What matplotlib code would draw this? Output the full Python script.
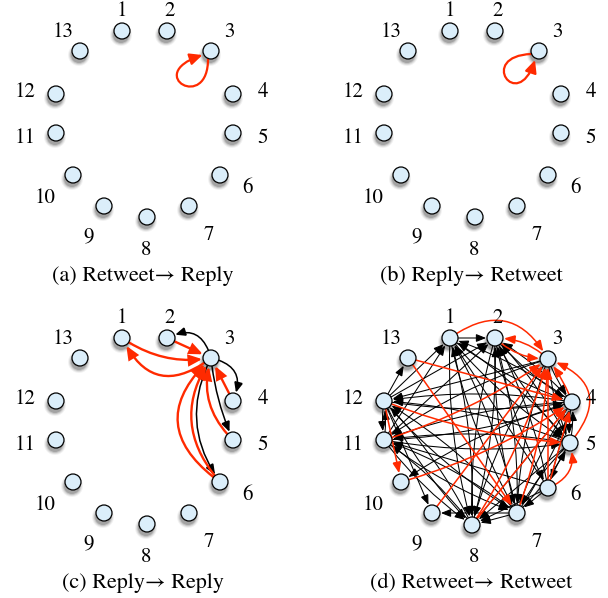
import matplotlib.pyplot as plt
from matplotlib.patches import Circle, FancyArrowPatch
from matplotlib.path import Path

# ---- layout data (pixels, relative to the centre of each panel, y down) ----
node_ids = list(range(1, 14))
node_dx = [-23, 22, 66, 88, 88, 75, 44, 2, -41, -72, -89, -89, -65]
node_dy = [-93, -93, -73, -30, 9, 51, 82, 93, 82, 51, 9, -30, -73]
label_dx = [-23, 25, 84, 118, 118, 102, 64, 1, -56, -100, -120, -120, -82]
label_dy = [-108, -108, -87, -27, 19, 69, 116, 131, 117, 79, 19, -27, -87]

# panel (d) was laid out with a few nodes nudged
d_nudge_x = [0, 0, 9, 11, 9, 0, 0, -3, 0, 0, 0, 0, 0]
d_nudge_y = [0, 0, 1, 1, 3, 6, 0, 1, 0, 0, 0, 0, 0]

panel_centres = {'a': (145, 124), 'b': (473, 124), 'c': (145, 431), 'd': (473, 431)}
captions = {'a': '(a) Retweet\u2192 Reply', 'b': '(b) Reply\u2192 Retweet',
            'c': '(c) Reply\u2192 Reply', 'd': '(d) Retweet\u2192 Retweet'}

# ---- edges (source, target, colour) ----
edges_c = [(1, 3, 'r'), (3, 1, 'r'), (2, 3, 'r'), (3, 2, 'k'), (3, 4, 'k'),
           (4, 3, 'r'), (3, 5, 'k'), (5, 3, 'r'), (3, 6, 'k'), (6, 3, 'r'),
           (6, 3, 'r')]
bend_c = [0.2, -0.6, 0.0, 0.6, -0.6, 0.0, 0.08, -0.3, 0.3, -0.6, -0.38]

black_d = [(1, 2), (1, 4), (1, 5), (1, 7), (1, 8),
           (2, 4), (2, 5), (2, 6), (2, 7), (2, 8),
           (3, 4), (3, 5), (3, 7), (3, 8), (3, 11), (3, 12),
           (4, 1), (4, 2), (4, 5), (4, 7), (4, 10), (4, 11), (4, 12),
           (5, 1), (5, 2), (5, 4), (5, 6), (5, 7), (5, 8), (5, 11), (5, 12),
           (6, 1), (6, 2), (6, 4), (6, 7), (6, 8), (6, 11),
           (7, 1), (7, 2), (7, 4), (7, 5), (7, 8), (7, 9), (7, 11), (7, 12),
           (8, 1), (8, 2), (8, 4), (8, 11), (8, 12),
           (11, 1), (11, 2), (11, 4), (11, 5), (11, 7), (11, 8), (11, 12),
           (12, 1), (12, 2), (12, 4), (12, 7), (12, 8), (12, 9), (12, 11),
           (12, 13)]
red_d = [(1, 3), (2, 3), (3, 2), (4, 3), (5, 3), (6, 3), (6, 4), (6, 5),
         (7, 3), (8, 3), (8, 4), (9, 3), (10, 4), (11, 3), (12, 5), (12, 10),
         (13, 4), (13, 7)]
bend_red_d = {(1, 3): -0.55, (2, 3): 0.2, (3, 2): 0.2, (5, 3): 0.7, (6, 5): 0.45}

RED = '#ff2a00'
NODE_FILL = '#dbeefa'
R = 8.0

fig = plt.figure(figsize=(6.08, 5.98), dpi=100)
ax = fig.add_axes([0, 0, 1, 1])
ax.set_xlim(0, 608)
ax.set_ylim(598, 0)
ax.axis('off')

font = ['STIXGeneral', 'Liberation Serif', 'DejaVu Serif']


def node_pos(panel):
    cx, cy = panel_centres[panel]
    pos = {}
    for i, n in enumerate(node_ids):
        x = cx + node_dx[i]
        y = cy + node_dy[i]
        if panel == 'd':
            x += d_nudge_x[i]
            y += d_nudge_y[i]
        pos[n] = (x, y)
    return pos


def edge(p, q, color, lw, rad, hl, hw):
    a = FancyArrowPatch(p, q, arrowstyle=f'-|>,head_length={hl},head_width={hw}',
                        mutation_scale=10, connectionstyle=f'arc3,rad={rad}',
                        color=color, lw=lw, shrinkA=6.0, shrinkB=6.4,
                        zorder=3, joinstyle='miter')
    ax.add_patch(a)


def self_loop(pts, color):
    path = Path(pts, [Path.MOVETO, Path.CURVE4, Path.CURVE4, Path.CURVE4])
    a = FancyArrowPatch(path=path, arrowstyle='-|>,head_length=0.75,head_width=0.35',
                        mutation_scale=10, color=color, lw=1.6, zorder=3)
    ax.add_patch(a)


for panel in 'abcd':
    pos = node_pos(panel)
    cx, cy = panel_centres[panel]

    # nodes with soft shadow
    for n in node_ids:
        x, y = pos[n]
        for rr, al in [(11, 0.06), (10, 0.1), (9, 0.15), (8, 0.22)]:
            ax.add_patch(Circle((x - 1, y + 4), rr, facecolor='#303030',
                                edgecolor='none', alpha=al, zorder=1))
        ax.add_patch(Circle((x, y), R, facecolor=NODE_FILL, edgecolor='black',
                            lw=0.9, zorder=5))

    for i, n in enumerate(node_ids):
        ax.text(cx + label_dx[i], cy + label_dy[i], str(n), ha='center',
                va='baseline', fontsize=15, family=font, zorder=6)

    ax.text(cx - 2, cy + 157, captions[panel], ha='center', va='baseline',
            fontsize=16, family=font, zorder=6)

    if panel == 'a':
        x, y = pos[3]
        self_loop([(x - 3, y + 7), (x - 2, y + 62), (x - 68, y + 24),
                   (x - 8.5, y + 4)], RED)
    elif panel == 'b':
        x, y = pos[3]
        self_loop([(x - 7.5, y + 3), (x - 62, y + 5), (x - 22, y + 62),
                   (x - 4, y + 9)], RED)
    elif panel == 'c':
        for (s, t, c), rad in zip(edges_c, bend_c):
            if c == 'r':
                edge(pos[s], pos[t], RED, 1.7, rad, 0.75, 0.32)
            else:
                edge(pos[s], pos[t], 'black', 1.1, rad, 0.6, 0.26)
    else:
        pairs = set(black_d) | set(red_d)
        for s, t in black_d:
            rad = 0.08 if (t, s) in pairs else 0.0
            edge(pos[s], pos[t], 'black', 0.75, rad, 0.6, 0.24)
        for s, t in red_d:
            rad = bend_red_d.get((s, t), 0.08 if (t, s) in pairs else 0.0)
            edge(pos[s], pos[t], RED, 1.1, rad, 0.65, 0.26)

fig.savefig('out.png', dpi=100)
